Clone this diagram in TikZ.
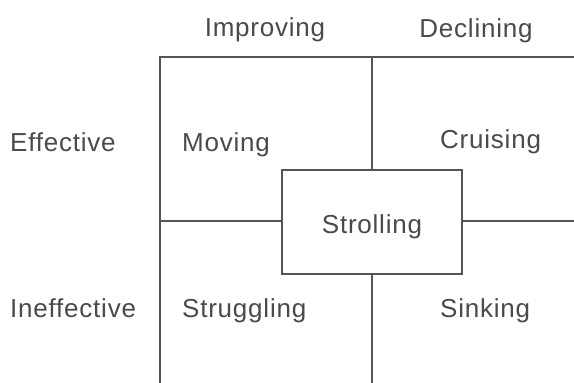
\documentclass[tikz,border=0pt]{standalone}
\usepackage{fontspec}
\setmainfont{Liberation Sans}[LetterSpace=3]
\definecolor{txt}{HTML}{4A4A4A}
\definecolor{ln}{HTML}{555555}
\begin{document}
\begin{tikzpicture}[x=1pt,y=-1pt,
  lbl/.style={text=txt,font=\fontsize{26}{28}\selectfont,inner sep=0pt},
  grid/.style={draw=ln,line width=1.4pt}]
\useasboundingbox (0,0) rectangle (574,383);
\fill[white] (0,0) rectangle (574,383);
% grid
\coordinate (tl) at (160,57);
\coordinate (tr) at (574,57);
\coordinate (bl) at (160,383);
\coordinate (tm) at (372,57);
\coordinate (bm) at (372,383);
\coordinate (ml) at (160,221);
\coordinate (mr) at (574,221);
\draw[grid] (bl) -- (tl) -- (tr);
\draw[grid] (tm) -- (bm);
\draw[grid] (ml) -- (mr);
\node[grid,fill=white,minimum width=180pt,minimum height=104pt,inner sep=0pt] (c) at (372,222) {};
\node[lbl,anchor=base] (s) at (372,233) {Strolling};
% column headers
\node[lbl,anchor=base] (imp) at (265,36) {Improving};
\node[lbl,anchor=base] (dec) at (476,37) {Declining};
% row headers
\node[lbl,anchor=base west] (eff) at (10,151) {Effective};
\node[lbl,anchor=base west] (ineff) at (10,317) {Ineffective};
% quadrants
\node[lbl,anchor=base west] (mov) at (182,151) {Moving};
\node[lbl,anchor=base west] (cru) at (440,148) {Cruising};
\node[lbl,anchor=base west] (stru) at (182,317) {Struggling};
\node[lbl,anchor=base west] (sin) at (440,317) {Sinking};
\end{tikzpicture}
\end{document}
